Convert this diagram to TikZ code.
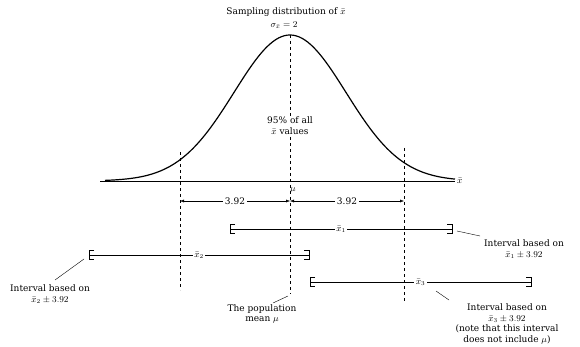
\documentclass[tikz,border=0pt]{standalone}
\usepackage{fontspec}
\setmainfont{DejaVu Serif}
\usetikzlibrary{arrows.meta,positioning}
\tikzset{
	guideline/.style={
			dashed,
			thin
		},
	curveline/.style={
			line width=1.2pt
		},
	intervalline/.style={
			thin
		},
	dimarrow/.style={
			{Latex[length=4pt,width=3pt]}-{Latex[length=4pt,width=3pt]},
			thin
		},
	midlabel/.style={
			fill=white,
			inner sep=1.5pt,
			font=\fontsize{9}{11}\selectfont
		},
	notetext/.style={
			align=center,
			inner sep=0pt,
			font=\fontsize{9}{10.5}\selectfont
		},
	leader/.style={
			thin
		}
}
\newcommand{\xbar}{\bar{x}}
\newcommand{\ivopen}[1]{\draw ([xshift=5pt,yshift=4.5pt]#1) -- ([yshift=4.5pt]#1) -- ([yshift=-4.5pt]#1) -- ([xshift=5pt,yshift=-4.5pt]#1);}
\newcommand{\ivclose}[1]{\draw ([xshift=-5pt,yshift=4.5pt]#1) -- ([yshift=4.5pt]#1) -- ([yshift=-4.5pt]#1) -- ([xshift=-5pt,yshift=-4.5pt]#1);}

\begin{document}
\begin{tikzpicture}[x=1pt, y=-1pt]

	\useasboundingbox (0,0) rectangle (580,347);

	% title
	\node[notetext] (title) at (286,12) {Sampling distribution of $\xbar$};
	\node[notetext] (sigma) at (284,25) {$\sigma_{\xbar} = 2$};

	% axis and curve
	\coordinate (axl) at (100,181);
	\coordinate (axr) at (455,181);
	\node[right=2pt of axr, notetext] (axlabel) {$\xbar$};
	\draw[thin] (axl) -- (axr);
	\draw[curveline, domain=105:455, samples=120, smooth]
		plot (\x, {181 - 146*exp(-((\x-290)/56)^2/2)});

	% population mean and guide lines
	\coordinate (mutop) at (290,35);
	\coordinate (mubot) at (290,294);
	\coordinate (ltop) at (180,152);
	\coordinate (lbot) at (180,290);
	\coordinate (rtop) at (404,148);
	\coordinate (rbot) at (404,302);
	\draw[guideline] (mutop) -- (mubot);
	\draw[guideline] (ltop) -- (lbot);
	\draw[guideline] (rtop) -- (rbot);

	\node[midlabel, align=center] (share) at (290,126) {95\% of all\\$\xbar$ values};
	\node[notetext] (mu) at (293,190) {$\mu$};

	% 3.92 either side
	\coordinate (dl) at (180,201);
	\coordinate (dm) at (290,201);
	\coordinate (dr) at (404,201);
	\draw[dimarrow] (dl) -- node[midlabel] {3.92} (dm);
	\draw[dimarrow] (dm) -- node[midlabel] {3.92} (dr);

	% intervals
	\coordinate (a1) at (230,229);
	\coordinate (b1) at (452,229);
	\coordinate (a2) at (89,255);
	\coordinate (b2) at (309,255);
	\coordinate (a3) at (310,282);
	\coordinate (b3) at (531,282);

	\draw[intervalline] (a1) -- node[midlabel] {$\xbar_1$} (b1);
	\draw[intervalline] (a2) -- node[midlabel] {$\xbar_2$} (b2);
	\draw[intervalline] (a3) -- node[midlabel] {$\xbar_3$} (b3);
	\ivopen{a1} \ivclose{b1}
	\ivopen{a2} \ivclose{b2}
	\ivopen{a3} \ivclose{b3}

	% notes
	\node[notetext] (note1) at (524,249) {Interval based on\\$\xbar_1 \pm 3.92$};
	\node[notetext] (note2) at (50,294) {Interval based on\\$\xbar_2 \pm 3.92$};
	\node[notetext] (note3) at (507,324) {Interval based on\\$\xbar_3 \pm 3.92$\\(note that this interval\\does not include $\mu$)};
	\node[notetext] (notemu) at (262,314) {The population\\mean $\mu$};

	\coordinate (l1a) at (480,236);
	\coordinate (l1b) at (457,231);
	\coordinate (l2a) at (55,280);
	\coordinate (l2b) at (84,259);
	\coordinate (l3a) at (449,300);
	\coordinate (l3b) at (436,291);
	\coordinate (lma) at (273,303);
	\coordinate (lmb) at (288,296);
	\draw[leader] (l1a) -- (l1b);
	\draw[leader] (l2a) -- (l2b);
	\draw[leader] (l3a) -- (l3b);
	\draw[leader] (lma) -- (lmb);

\end{tikzpicture}
\end{document}
